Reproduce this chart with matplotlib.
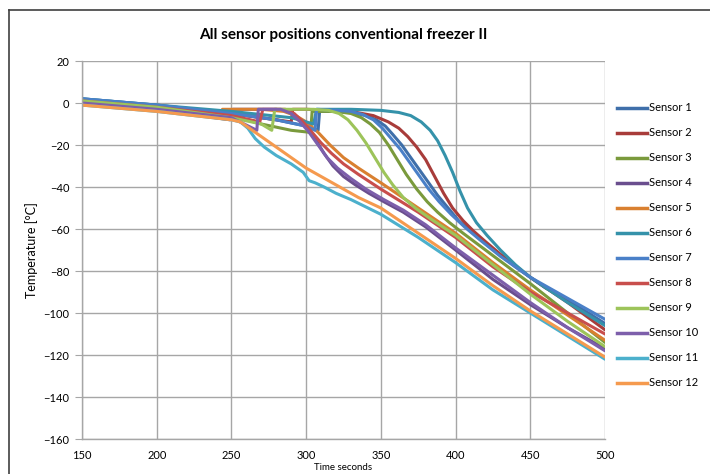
import matplotlib
matplotlib.use("Agg")
import matplotlib.pyplot as plt
from matplotlib.lines import Line2D

plt.rcParams['font.family'] = ['Lato', 'DejaVu Sans']

sensor_names = [f"Sensor {i}" for i in range(1, 13)]
colors = ["#3F6FAA", "#A83C3A", "#7A9A3C", "#6A4E8E", "#D98030", "#3592AA",
          "#4A80C8", "#C84E4C", "#9DC45A", "#7D5FAB", "#4CB0CC", "#F59A4E"]

s1_t = [150, 200, 250, 280, 300, 308, 309, 320, 330, 340, 347, 353, 358, 364, 370, 376, 382, 388, 395, 402, 410, 420, 440, 460, 480, 500]
s1_v = [2, -1, -5, -8, -11, -13, -4, -4, -4.5, -6, -8, -11, -15, -20, -26, -32, -38, -44, -50, -56, -61, -67, -78, -88, -96, -105]
s2_t = [150, 200, 250, 280, 290, 291, 300, 330, 345, 355, 362, 368, 374, 380, 386, 392, 398, 405, 412, 420, 430, 450, 475, 500]
s2_v = [1, -2, -5, -8, -9, -3, -3, -4, -6, -9, -12, -16, -21, -27, -35, -43, -50, -56, -61, -66, -72, -83, -95, -108]
s3_t = [150, 200, 250, 270, 290, 303, 304, 320, 330, 337, 343, 349, 355, 361, 367, 374, 381, 388, 396, 405, 420, 450, 475, 500]
s3_v = [1, -2, -6, -10, -13, -14, -4, -4, -5, -7, -10, -14, -20, -27, -34, -41, -47, -52, -57, -62, -70, -86, -100, -114]
s4_t = [150, 200, 249, 251, 280, 288, 294, 300, 306, 312, 318, 325, 333, 342, 352, 365, 380, 400, 425, 450, 475, 500]
s4_v = [1, -3, -8, -3, -3, -4, -7, -11, -17, -24, -30, -35, -39, -43, -47, -52, -59, -70, -84, -96, -107, -117]
s5_t = [150, 200, 242, 244, 270, 285, 293, 300, 308, 316, 325, 335, 350, 375, 400, 425, 450, 475, 500]
s5_v = [0, -3, -7, -3, -3, -4, -6, -9, -14, -20, -26, -31, -38, -50, -62, -76, -89, -101, -113]
s6_t = [150, 200, 250, 290, 305, 307, 330, 350, 362, 370, 377, 383, 388, 393, 398, 403, 408, 414, 421, 430, 440, 450, 475, 500]
s6_v = [2, -1, -4, -7, -10, -3, -3, -3.5, -4.5, -6, -9, -13, -18, -25, -33, -42, -50, -57, -63, -70, -77, -83, -95, -106]
s7_t = [150, 200, 250, 280, 300, 306, 307, 320, 330, 338, 345, 351, 357, 363, 369, 375, 382, 389, 397, 406, 416, 430, 450, 475, 500]
s7_v = [2, -1, -5, -8, -11, -13, -3, -3.5, -4, -5.5, -8, -12, -17, -22, -28, -34, -41, -47, -53, -59, -65, -73, -83, -93, -103]
s8_t = [150, 200, 250, 269, 271, 286, 292, 298, 304, 310, 317, 325, 335, 350, 375, 400, 425, 450, 475, 500]
s8_v = [1, -2, -6, -9, -3, -3, -5, -9, -14, -19, -24, -29, -34, -41, -52, -64, -78, -90, -100, -110]
s9_t = [150, 200, 250, 270, 277, 279, 305, 315, 322, 328, 334, 340, 346, 352, 358, 365, 373, 385, 400, 425, 450, 475, 500]
s9_v = [1, -2, -7, -10, -13, -3, -3, -3.5, -5, -8, -13, -19, -26, -33, -39, -45, -50, -56, -63, -77, -91, -104, -116]
s10_t = [150, 200, 250, 267, 268, 283, 290, 296, 302, 308, 314, 321, 330, 340, 352, 365, 380, 400, 425, 450, 475, 500]
s10_v = [0, -3, -7, -13, -3, -3, -5, -9, -14, -20, -26, -31, -36, -41, -46, -51, -58, -69, -82, -95, -107, -118]
s11_t = [150, 200, 250, 256, 261, 266, 272, 280, 290, 298, 302, 306, 312, 320, 330, 350, 375, 400, 425, 450, 475, 500]
s11_v = [-1, -4, -8, -9, -12, -17, -21, -25, -29, -33, -37, -38, -40, -43, -46, -53, -64, -76, -89, -100, -111, -122]
s12_t = [150, 200, 250, 256, 262, 270, 280, 290, 300, 310, 320, 335, 350, 375, 400, 425, 450, 475, 500]
s12_v = [-1, -4, -8, -9, -12, -16, -21, -26, -31, -35, -39, -45, -50, -62, -74, -87, -99, -110, -121]

series = [(s1_t, s1_v), (s2_t, s2_v), (s3_t, s3_v), (s4_t, s4_v), (s5_t, s5_v), (s6_t, s6_v),
          (s7_t, s7_v), (s8_t, s8_v), (s9_t, s9_v), (s10_t, s10_v), (s11_t, s11_v), (s12_t, s12_v)]

x_ticks = [150, 200, 250, 300, 350, 400, 450, 500]
y_ticks = [20, 0, -20, -40, -60, -80, -100, -120, -140, -160]

fig = plt.figure(figsize=(7.1, 4.74), dpi=100)
ax = fig.add_axes([82/710, 1-439/474, (605-82)/710, (439-61)/474])

for (t, v), c, name in zip(series, colors, sensor_names):
    ax.plot(t, v, color=c, lw=2.2, label=name, solid_joinstyle='round', solid_capstyle='round')

ax.set_xlim(150, 500)
ax.set_ylim(-160, 20)
ax.set_xticks(x_ticks)
ax.set_yticks(y_ticks)
ax.grid(True, color="#A6A6A6", lw=1.0)
ax.set_axisbelow(True)
for s in ['top', 'right']:
    ax.spines[s].set_visible(False)
for s in ['left', 'bottom']:
    ax.spines[s].set_color("#A6A6A6")
    ax.spines[s].set_linewidth(1.0)
ax.tick_params(axis='y', length=5, color="#A6A6A6", labelsize=8, pad=4)
ax.tick_params(axis='x', length=0, labelsize=8, pad=8)

ax.set_title("All sensor positions conventional freezer II", fontsize=11, fontweight='bold', pad=16)
ax.set_ylabel("Temperature [°C]", fontsize=9, labelpad=4)
ax.set_xlabel("Time seconds", fontsize=7, labelpad=1)

handles = [Line2D([0], [0], color=c, lw=2.5) for c in colors]
fig.legend(handles, sensor_names, loc='upper left', bbox_to_anchor=(613/710, 1-98/474),
           frameon=False, fontsize=8, handlelength=2.7, handletextpad=0.1,
           labelspacing=1.26, borderaxespad=0)

# chart border (extends past right/bottom edges)
fig.add_artist(Line2D([8.5/710, 8.5/710], [0, 1-10/474], transform=fig.transFigure, color="#404040", lw=1.2))
fig.add_artist(Line2D([8.5/710, 1], [1-10/474, 1-10/474], transform=fig.transFigure, color="#404040", lw=1.2))

fig.savefig("out.png", dpi=100)
